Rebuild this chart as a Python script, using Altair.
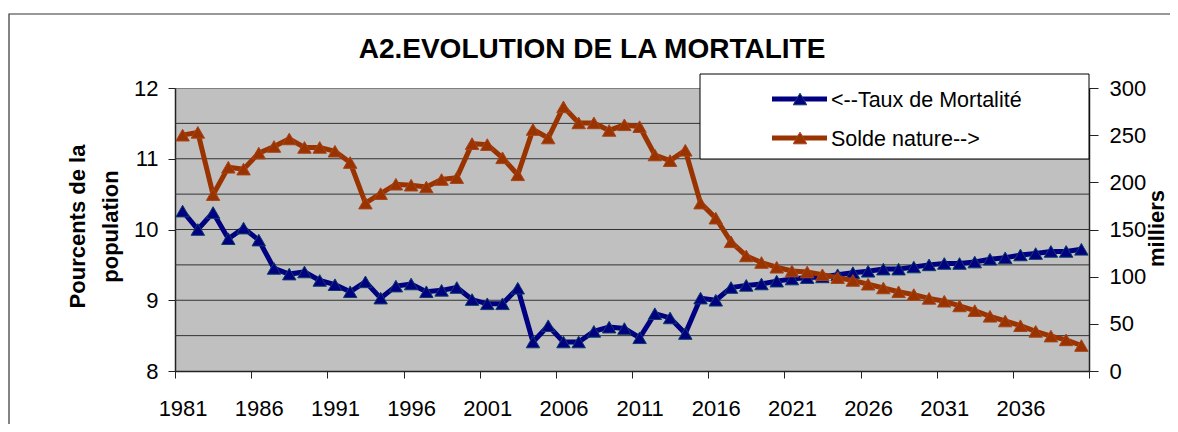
import altair as alt
import pandas as pd

years = list(range(1981, 2041))
taux = [10.26, 10.00, 10.24, 9.87, 10.02, 9.85, 9.45, 9.37, 9.40, 9.28,
        9.22, 9.12, 9.26, 9.03, 9.20, 9.23, 9.12, 9.14, 9.18, 9.01,
        8.95, 8.95, 9.17, 8.41, 8.64, 8.41, 8.41, 8.56, 8.62, 8.60,
        8.47, 8.81, 8.75, 8.53, 9.03, 9.00, 9.18, 9.21, 9.23, 9.27,
        9.30, 9.32, 9.33, 9.36, 9.39, 9.41, 9.44, 9.44, 9.47, 9.50,
        9.52, 9.52, 9.54, 9.58, 9.60, 9.64, 9.66, 9.69, 9.69, 9.72]
solde = [250, 253, 187, 216, 214, 231, 238, 246, 237, 237,
         233, 221, 178, 188, 198, 197, 195, 203, 205, 241,
         240, 226, 208, 256, 247, 280, 263, 263, 255, 261,
         259, 229, 223, 234, 178, 162, 137, 122, 115, 110,
         106, 105, 102, 99, 96, 92, 88, 84, 81, 77,
         74, 69, 64, 58, 53, 48, 42, 37, 33, 27]
left_ticks = [8, 9, 10, 11, 12]
grid_values = [8.5, 9, 9.5, 10, 10.5, 11, 11.5]
right_ticks = [0, 50, 100, 150, 200, 250, 300]
x_ticks = [1980.5 + 5 * i for i in range(13)]
series_names = ["<--Taux de Mortalité", "Solde  nature-->"]
series_colors = ["#000080", "#993300"]
series_strokes = ["#0B3D6B", "#A8431A"]
title_text = "A2.EVOLUTION DE LA MORTALITE"

W, H = 914, 283
FONT = "Liberation Sans"

df = pd.DataFrame({"year": years, "taux": taux, "solde": solde})
grid_df = pd.DataFrame({"taux": grid_values})
leg_df = pd.DataFrame({"label": series_names})
one = pd.DataFrame({"t": [title_text]})

x_enc = alt.X(
    "year:Q",
    scale=alt.Scale(domain=[1980.5, 2040.5], nice=False, zero=False),
    axis=alt.Axis(
        values=x_ticks,
        labelExpr="datum.value < 2040 ? format(datum.value + 0.5, 'd') : ''",
        labelOffset=7.6, labelFlush=False, labelOverlap=False,
        labelBaseline="alphabetic", labelPadding=37, tickSize=7,
        labelFontSize=22, grid=False, title=None,
        domainColor="#222", domainWidth=1.5, tickColor="#222",
    ),
)

left_scale = alt.Scale(domain=[8, 12], nice=False, zero=False)
right_scale = alt.Scale(domain=[0, 300], nice=False, zero=True)

left_axis = alt.Axis(
    orient="left", values=left_ticks, format="d", tickSize=7, labelPadding=10,
    labelFontSize=22, grid=False, domainColor="#222", domainWidth=1.5,
    tickColor="#222",
    title=["Pourcents de la", "population"], titleFontSize=22,
    titleFontWeight="bold", titleAngle=270, titleAlign="center",
    titleBaseline="middle", titleLineHeight=33, titleX=-98, titleY=138,
)
blue_y = alt.Y("taux:Q", scale=left_scale, axis=left_axis)

grid = alt.Chart(grid_df).mark_rule(color="#333", strokeWidth=1).encode(y=blue_y)
blue_line = alt.Chart(df).mark_line(color=series_colors[0], strokeWidth=5).encode(x=x_enc, y=blue_y)
blue_pts = alt.Chart(df).mark_point(
    shape="triangle-up", filled=True, size=180, fill=series_colors[0],
    stroke=series_strokes[0], strokeWidth=1, opacity=1,
).encode(x=x_enc, y=blue_y)

right_axis = alt.Axis(
    orient="right", values=right_ticks, tickSize=9, labelPadding=11,
    labelFontSize=22, labelAlign="left", grid=False, domainColor="#222",
    domainWidth=1.5, tickColor="#222",
    title="milliers", titleFontSize=22, titleFontWeight="bold",
    titleAngle=270, titleAlign="center", titleBaseline="alphabetic",
    titleX=74, titleY=140,
)
brown_y = alt.Y("solde:Q", scale=right_scale, axis=right_axis)
brown_line = alt.Chart(df).mark_line(color=series_colors[1], strokeWidth=5).encode(x=x_enc, y=brown_y)
brown_pts = alt.Chart(df).mark_point(
    shape="triangle-up", filled=True, size=180, fill=series_colors[1],
    stroke=series_strokes[1], strokeWidth=1, opacity=1,
).encode(x=x_enc, y=brown_y)

left = alt.layer(grid, blue_line, blue_pts)
right = alt.layer(brown_line, brown_pts)

# legend
leg_y = alt.Y("label:N", scale=alt.Scale(type="point", domain=series_names, range=[11, 50], padding=0), axis=None)
leg_box = alt.Chart(one).mark_rect(fill="white", stroke="black", strokeWidth=1).encode(
    x=alt.value(525), x2=alt.value(914), y=alt.value(-14), y2=alt.value(71)
)
leg_rule = alt.Chart(leg_df).mark_rule(strokeWidth=5).encode(
    x=alt.value(597), x2=alt.value(652), y=leg_y,
    color=alt.Color("label:N", scale=alt.Scale(domain=series_names, range=series_colors), legend=None),
)
leg_pt = alt.Chart(leg_df).mark_point(shape="triangle-up", filled=True, size=180, strokeWidth=1, opacity=1).encode(
    x=alt.value(625), y=leg_y,
    fill=alt.Fill("label:N", scale=alt.Scale(domain=series_names, range=series_colors), legend=None),
    stroke=alt.Stroke("label:N", scale=alt.Scale(domain=series_names, range=series_strokes), legend=None),
)
leg_text = alt.Chart(leg_df).mark_text(align="left", baseline="middle", fontSize=21.5, font=FONT, color="black", dy=2).encode(
    x=alt.value(656), y=leg_y, text="label:N"
)

title = alt.Chart(one).mark_text(
    align="center", baseline="alphabetic", fontSize=28, fontWeight="bold", font=FONT, color="black"
).encode(x=alt.value(417), y=alt.value(-30), text="t:N")

border = alt.Chart(one).mark_rect(fill=None, stroke="#333", strokeWidth=1.2).encode(
    x=alt.value(-166), x2=alt.value(1300), y=alt.value(-74), y2=alt.value(500)
)

chart = alt.layer(left, right, leg_box, leg_rule, leg_pt, leg_text, title, border).resolve_scale(
    y="independent"
).properties(
    width=W, height=H,
    autosize=alt.AutoSizeParams(type="none"),
    padding={"left": 167, "top": 80, "right": 81, "bottom": 53},
    background="white",
).configure_view(
    fill="#C0C0C0", stroke="#808080", strokeWidth=1
).configure_axis(
    labelFont=FONT, titleFont=FONT, labelColor="black", titleColor="black"
)

chart.save("out.html", embed_options={"renderer": "svg", "actions": False})
